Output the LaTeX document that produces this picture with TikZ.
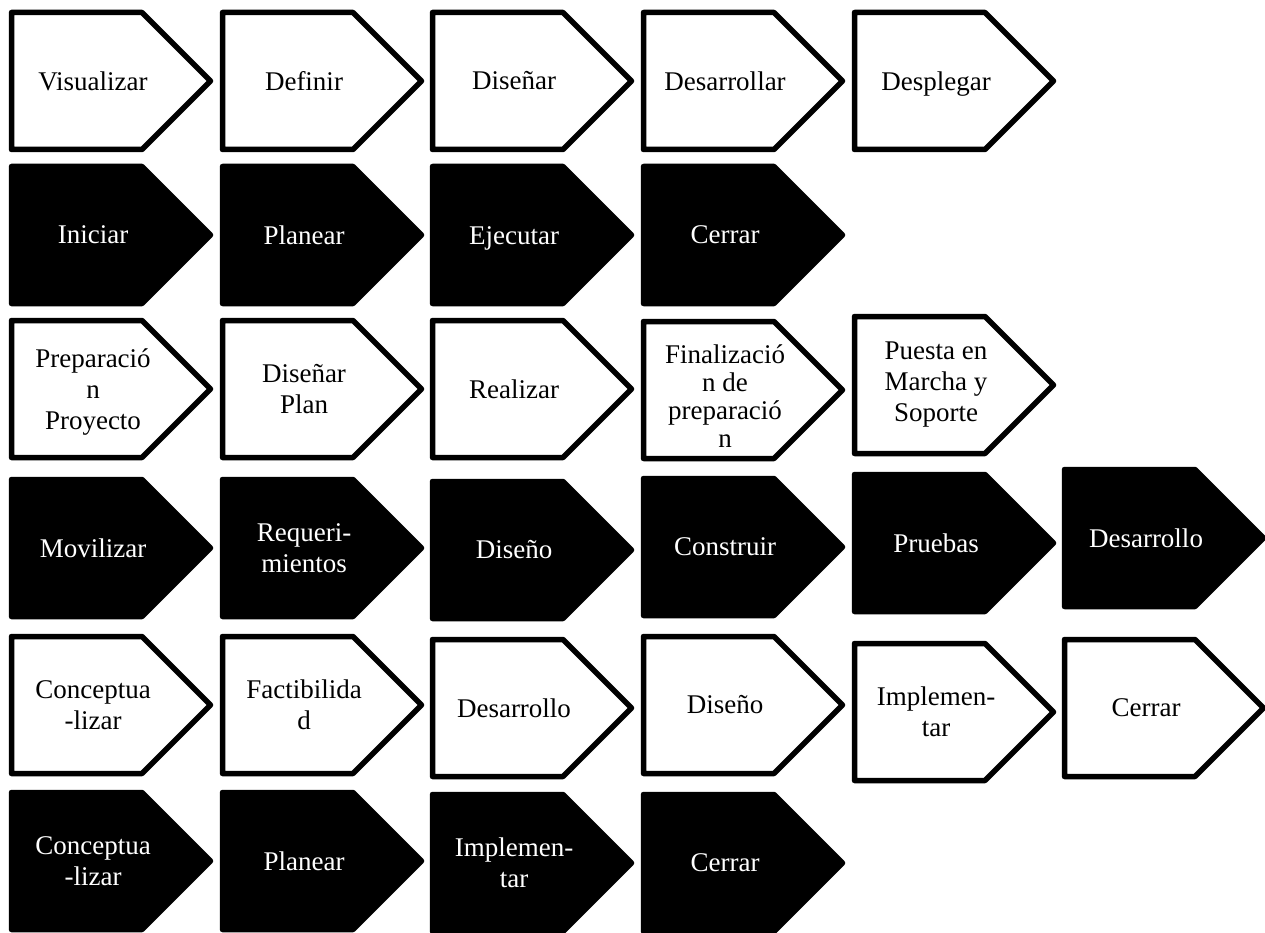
\documentclass[tikz,border=0pt]{standalone}
\usepackage{fontspec}
\setmainfont{Liberation Serif}

% One phase arrow: #2 = left edge, #3 = top edge, #4 = style, #5 = node name, #6 = label
\newcommand\phasebox[6][]{%
  \draw[#4] (#2+2.5,#3+2.5) -- (#2+133,#3+2.5) -- (#2+201.5,#3+71)
        -- (#2+133,#3+139.5) -- (#2+2.5,#3+139.5) -- cycle;
  \node[#4 text,#1] (#5) at (#2+84,#3+71) {#6};%
}

\begin{document}
\begin{tikzpicture}[x=1pt,y=-1pt,
  phasewhite/.style={draw=black,line width=5.5pt,line join=round,fill=white},
  phaseblack/.style={draw=black,line width=5.5pt,line join=round,fill=black},
  phasewhite text/.style={text=black,align=center,inner sep=0pt,
    font=\fontsize{27}{31}\selectfont},
  phaseblack text/.style={phasewhite text,text=white},
  low/.style={yshift=-3pt}]
\useasboundingbox (0,0) rectangle (1265,933);
\clip (0,0) rectangle (1265,933);
\fill[white] (0,0) rectangle (1265,933);

% Row 1
\phasebox{9}{10}{phasewhite}{visualizar}{Visualizar}
\phasebox{220}{10}{phasewhite}{definir}{Definir}
\phasebox{430}{10}{phasewhite}{disenar}{Diseñar}
\phasebox{641}{10}{phasewhite}{desarrollar}{Desarrollar}
\phasebox[low]{852}{10}{phasewhite}{desplegar}{Desplegar}

% Row 2
\phasebox{9}{164}{phaseblack}{iniciar}{Iniciar}
\phasebox{220}{164}{phaseblack}{planearA}{Planear}
\phasebox[low]{430}{164}{phaseblack}{ejecutar}{Ejecutar}
\phasebox{641}{164}{phaseblack}{cerrarA}{Cerrar}

% Row 3
\phasebox[low]{9}{318}{phasewhite}{preparacion}{Preparació\\n\\Proyecto}
\phasebox{220}{318}{phasewhite}{disenarplan}{Diseñar\\Plan}
\phasebox{430}{318}{phasewhite}{realizar}{Realizar}
\phasebox[font=\fontsize{27}{28}\selectfont,yshift=-6pt]{641}{319}{phasewhite}{finalizacion}{Finalizació\\n de\\preparació\\n}
\phasebox{852}{314}{phasewhite}{puesta}{Puesta en\\Marcha y\\Soporte}

% Row 4
\phasebox{9}{477}{phaseblack}{movilizar}{Movilizar}
\phasebox{220}{477}{phaseblack}{requerimientos}{Requeri-\\mientos}
\phasebox{430}{479}{phaseblack}{disenoA}{Diseño}
\phasebox{641}{476}{phaseblack}{construir}{Construir}
\phasebox{852}{472}{phaseblack}{pruebas}{Pruebas}
\phasebox{1062}{467}{phaseblack}{desarrolloA}{Desarrollo}

% Row 5
\phasebox{9}{634}{phasewhite}{conceptualizarA}{Conceptua\\-lizar}
\phasebox{220}{634}{phasewhite}{factibilidad}{Factibilida\\d}
\phasebox{430}{637}{phasewhite}{desarrolloB}{Desarrollo}
\phasebox{641}{634}{phasewhite}{disenoB}{Diseño}
\phasebox{852}{641}{phasewhite}{implementarA}{Implemen-\\tar}
\phasebox{1062}{637}{phasewhite}{cerrarB}{Cerrar}

% Row 6
\phasebox{9}{790}{phaseblack}{conceptualizarB}{Conceptua\\-lizar}
\phasebox{220}{790}{phaseblack}{planearB}{Planear}
\phasebox{430}{792}{phaseblack}{implementarB}{Implemen-\\tar}
\phasebox{641}{792}{phaseblack}{cerrarC}{Cerrar}
\end{tikzpicture}
\end{document}
